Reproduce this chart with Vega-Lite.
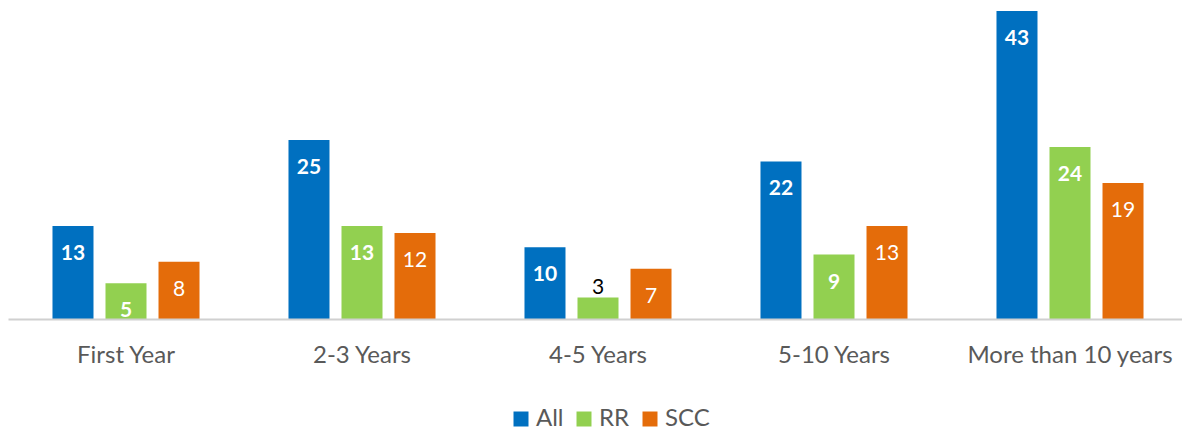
{
  "$schema": "https://vega.github.io/schema/vega-lite/v6.json",
  "autosize": {"type": "none"},
  "padding": {"left": 8, "top": 11, "right": 0, "bottom": 111},
  "width": 1180,
  "height": 308,
  "config": {"view": {"stroke": null}, "font": "Lato"},
  "data": {"values": [
    {"cat": "First  Year", "series": "All", "v": 13},
    {"cat": "First  Year", "series": "RR", "v": 5},
    {"cat": "First  Year", "series": "SCC", "v": 8},
    {"cat": "2-3 Years", "series": "All", "v": 25},
    {"cat": "2-3 Years", "series": "RR", "v": 13},
    {"cat": "2-3 Years", "series": "SCC", "v": 12},
    {"cat": "4-5 Years", "series": "All", "v": 10},
    {"cat": "4-5 Years", "series": "RR", "v": 3},
    {"cat": "4-5 Years", "series": "SCC", "v": 7},
    {"cat": "5-10 Years", "series": "All", "v": 22},
    {"cat": "5-10 Years", "series": "RR", "v": 9},
    {"cat": "5-10 Years", "series": "SCC", "v": 13},
    {"cat": "More than 10 years", "series": "All", "v": 43},
    {"cat": "More than 10 years", "series": "RR", "v": 24},
    {"cat": "More than 10 years", "series": "SCC", "v": 19}
  ]},
  "encoding": {
    "x": {"field": "cat", "type": "nominal", "sort": null,
      "scale": {"paddingInner": 0.377, "paddingOuter": 0.1885},
      "axis": {"title": null, "labelAngle": 0, "ticks": false, "domainColor": "#d0d0d0", "domainWidth": 2,
        "labelColor": "#595959", "labelFontSize": 24, "labelBaseline": "alphabetic", "labelPadding": 43, "labelLimit": 400,
        "labelOverlap": false, "zindex": 1, "labelFont": "Lato"}},
    "xOffset": {"field": "series", "type": "nominal", "sort": ["All", "RR", "SCC"],
      "scale": {"paddingInner": 0.2264, "paddingOuter": 0}},
    "y": {"field": "v", "type": "quantitative", "scale": {"domain": [0, 43], "nice": false}, "axis": null}
  },
  "layer": [
    {"mark": {"type": "bar"},
     "encoding": {"color": {"field": "series", "type": "nominal",
       "scale": {"domain": ["All", "RR", "SCC"], "range": ["#0070C0", "#92D050", "#E46C0A"]},
       "legend": {"title": null, "orient": "none", "direction": "horizontal", "legendX": 501, "legendY": 396,
         "symbolType": "square", "symbolSize": 225, "symbolStrokeWidth": 0, "labelFontSize": 24, "labelColor": "#595959",
         "labelFont": "Lato", "columnPadding": 8, "labelOffset": 3, "padding": 0}}}},
    {"transform": [{"filter": "datum.series != 'SCC' && datum.v >= 4"}],
     "mark": {"type": "text", "baseline": "middle", "dy": 28, "fontSize": 21, "fontWeight": "bold", "color": "white"},
     "encoding": {"text": {"field": "v", "type": "quantitative"}}},
    {"transform": [{"filter": "datum.series == 'SCC' && datum.v >= 4"}],
     "mark": {"type": "text", "baseline": "middle", "dy": 28, "fontSize": 21, "color": "white"},
     "encoding": {"text": {"field": "v", "type": "quantitative"}}},
    {"transform": [{"filter": "datum.v < 4"}],
     "mark": {"type": "text", "baseline": "middle", "dy": -10, "fontSize": 21, "color": "black"},
     "encoding": {"text": {"field": "v", "type": "quantitative"}}}
  ]
}
